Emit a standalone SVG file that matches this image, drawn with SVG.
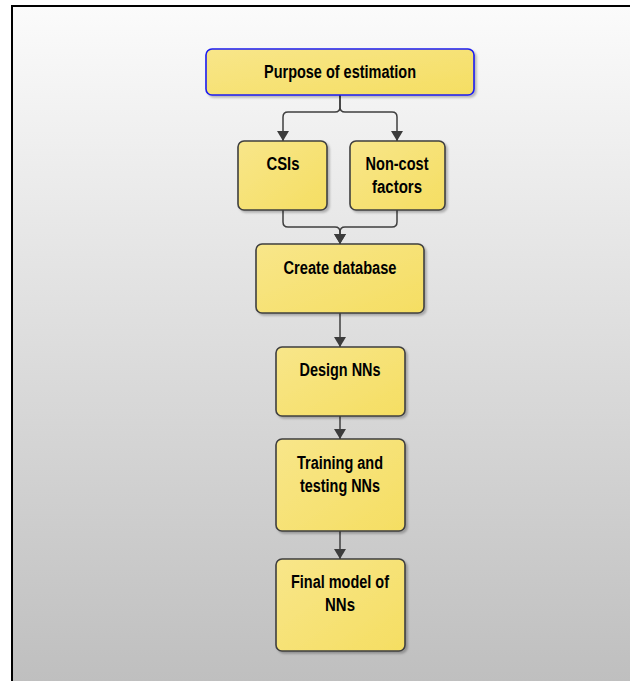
<svg xmlns="http://www.w3.org/2000/svg" width="630" height="681" viewBox="0 0 630 681">
<defs>
<linearGradient id="bg" x1="0" y1="0" x2="0" y2="1">
<stop offset="0" stop-color="#fbfbfb"/>
<stop offset="1" stop-color="#bfbfbf"/>
</linearGradient>
<linearGradient id="nf" x1="0" y1="0" x2="1" y2="1">
<stop offset="0" stop-color="#f8e68a"/>
<stop offset="1" stop-color="#f5de62"/>
</linearGradient>
<filter id="sh" x="-10%" y="-10%" width="130%" height="130%">
<feDropShadow dx="2" dy="2" stdDeviation="1.2" flood-color="#000" flood-opacity="0.25"/>
</filter>
<marker id="ah" viewBox="0 0 10 12" refX="10" refY="6" markerWidth="10" markerHeight="12" markerUnits="userSpaceOnUse" orient="auto">
<path d="M0,0 L10,6 L0,12 z" fill="#3c3c3c"/>
</marker>
</defs>
<style>
.node rect{fill:url(#nf);stroke:#3f3f3f;stroke-width:1.6;filter:url(#sh)}
.node text{font-family:"Liberation Sans",Arial,sans-serif;font-weight:bold;font-size:17.5px;fill:#000;text-anchor:middle}
.conn path{fill:none;stroke:#3f3f3f;stroke-width:1.5;marker-end:url(#ah)}
</style>
<rect x="0" y="0" width="630" height="681" fill="#ffffff"/>
<rect x="12" y="6" width="618" height="675" fill="url(#bg)"/>
<path d="M12,681 V6 H630" fill="none" stroke="#000" stroke-width="2"/>

<g class="conn" id="connectors">
<path d="M340,95 V107 Q340,112 335,112 H288 Q283,112 283,117 V141"/>
<path d="M340,95 V107 Q340,112 345,112 H392 Q397,112 397,117 V141"/>
<path d="M283,210 V222 Q283,227 288,227 H335 Q340,227 340,232 V244"/>
<path d="M397,210 V222 Q397,227 392,227 H345 Q340,227 340,232 V244"/>
<path d="M340,313 V347"/>
<path d="M340,416 V439"/>
<path d="M340,531 V559"/>
</g>

<g class="node" id="purpose">
<rect x="206" y="49" width="268" height="46" rx="6" style="stroke:#1c1cf0"/>
<text x="340" y="78" textLength="152" lengthAdjust="spacingAndGlyphs">Purpose of estimation</text>
</g>
<g class="node" id="csis">
<rect x="238" y="141" width="89" height="69" rx="6"/>
<text x="283" y="170" textLength="33" lengthAdjust="spacingAndGlyphs">CSIs</text>
</g>
<g class="node" id="noncost">
<rect x="350" y="141" width="95" height="69" rx="6"/>
<text x="397" y="170" textLength="63" lengthAdjust="spacingAndGlyphs">Non-cost</text>
<text x="397" y="193" textLength="50" lengthAdjust="spacingAndGlyphs">factors</text>
</g>
<g class="node" id="database">
<rect x="256" y="244" width="168" height="69" rx="6"/>
<text x="340" y="274" textLength="113" lengthAdjust="spacingAndGlyphs">Create database</text>
</g>
<g class="node" id="design">
<rect x="276" y="347" width="129" height="69" rx="6"/>
<text x="340" y="376" textLength="81" lengthAdjust="spacingAndGlyphs">Design NNs</text>
</g>
<g class="node" id="training">
<rect x="276" y="439" width="129" height="92" rx="6"/>
<text x="340" y="469" textLength="86" lengthAdjust="spacingAndGlyphs">Training and</text>
<text x="340" y="492" textLength="80" lengthAdjust="spacingAndGlyphs">testing NNs</text>
</g>
<g class="node" id="final">
<rect x="276" y="559" width="129" height="92" rx="6"/>
<text x="340" y="588" textLength="98" lengthAdjust="spacingAndGlyphs">Final model of</text>
<text x="340" y="611" textLength="30" lengthAdjust="spacingAndGlyphs">NNs</text>
</g>
</svg>
